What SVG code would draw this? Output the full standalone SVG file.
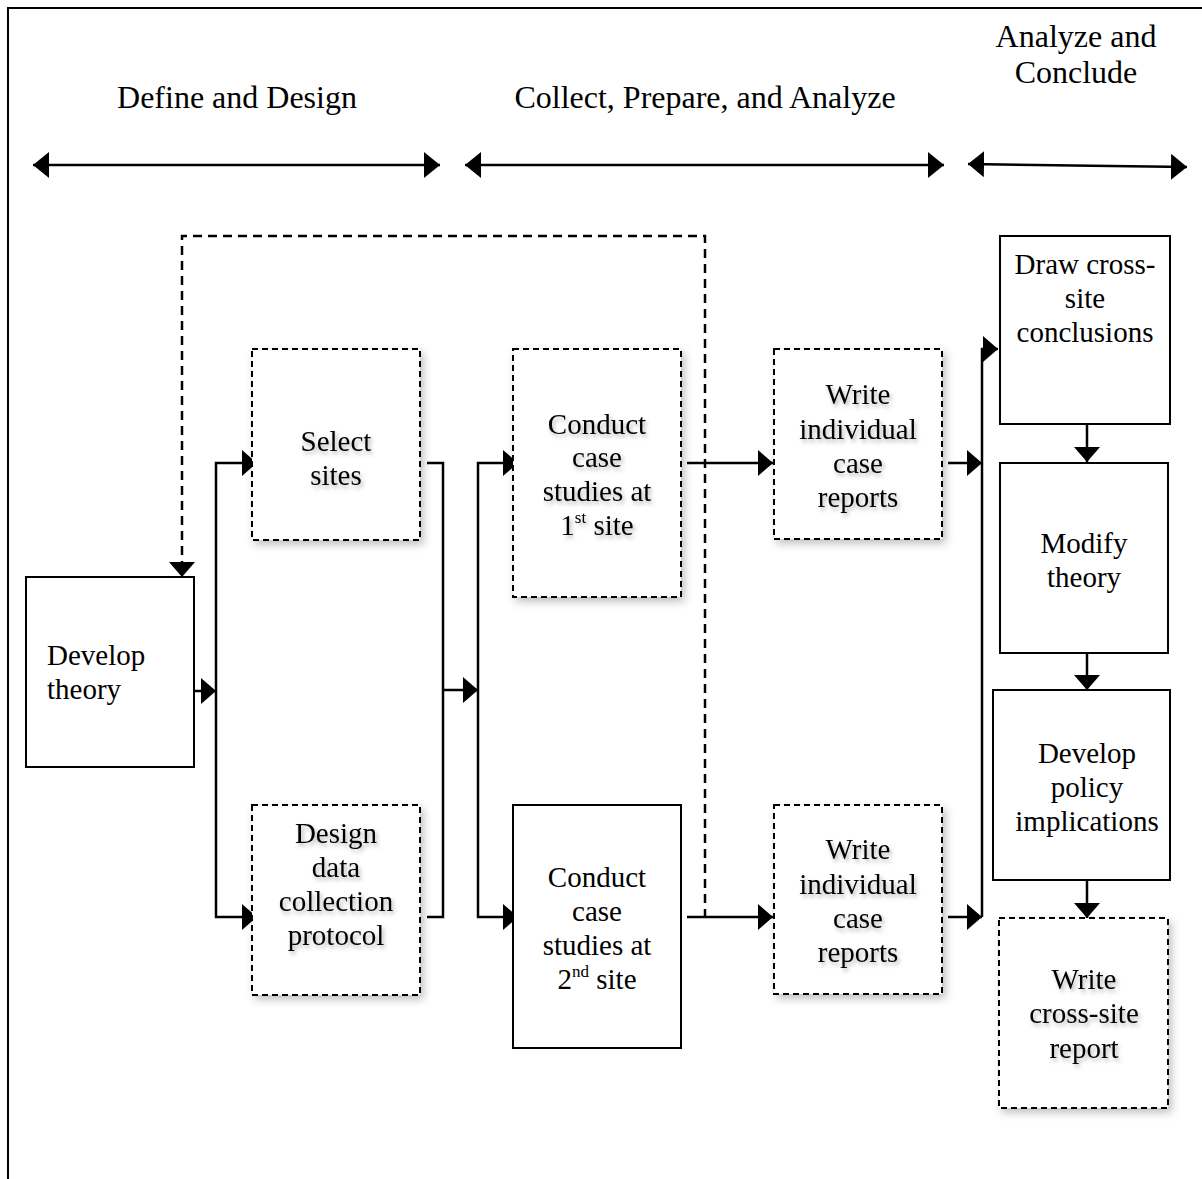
<svg xmlns="http://www.w3.org/2000/svg" width="1202" height="1179" viewBox="0 0 1202 1179">
<style>
text{font-family:"Liberation Serif","Times New Roman",serif;fill:#000}
.hd{font-size:32px;text-anchor:middle}
.bx{font-size:29px;text-anchor:middle}
.solid{fill:#fff;stroke:#000;stroke-width:2}
.dash{fill:#fff;stroke:#000;stroke-width:2;stroke-dasharray:6 4}
.sh{filter:url(#ds)}
.tsh{filter:url(#ts)}
.ln{fill:none;stroke:#000;stroke-width:2.5}
.fb{fill:none;stroke:#000;stroke-width:2.5;stroke-dasharray:9 6}
</style>
<defs>
<filter id="ds" x="-20%" y="-20%" width="150%" height="150%">
<feDropShadow dx="3" dy="4" stdDeviation="4" flood-color="#000" flood-opacity="0.25"/>
</filter>
<filter id="ts" x="-20%" y="-20%" width="150%" height="150%">
<feDropShadow dx="2" dy="3" stdDeviation="2" flood-color="#000" flood-opacity="0.3"/>
</filter>
<marker id="ah" viewBox="0 0 15 26" refX="15" refY="13" markerWidth="15" markerHeight="26" markerUnits="userSpaceOnUse" orient="auto">
<path d="M0,0 L15,13 L0,26 Z" fill="#000"/>
</marker>
<marker id="dh" viewBox="0 0 16 26" refX="16" refY="13" markerWidth="16" markerHeight="26" markerUnits="userSpaceOnUse" orient="auto-start-reverse">
<path d="M0,0 L16,13 L0,26 Z" fill="#000"/>
</marker>
</defs>
<rect width="1202" height="1179" fill="#fff"/>
<path d="M8,1179 V8 H1202" fill="none" stroke="#000" stroke-width="2"/>

<g id="headers">
<text class="hd" x="237" y="108">Define and Design</text>
<text class="hd" x="705" y="108">Collect, Prepare, and Analyze</text>
<text class="hd" x="1076" y="47">Analyze and</text>
<text class="hd" x="1076" y="83">Conclude</text>
</g>

<g id="phase-arrows">
<path class="ln" d="M33,165 H440" marker-start="url(#dh)" marker-end="url(#dh)"/>
<path class="ln" d="M465,165 H944" marker-start="url(#dh)" marker-end="url(#dh)"/>
<path class="ln" d="M968,164 L1187,167" marker-start="url(#dh)" marker-end="url(#dh)"/>
</g>

<g id="connectors">
<path class="fb" d="M705,918 V236 H182 V577" marker-end="url(#ah)"/>
<path class="ln" d="M194,691 H216" marker-end="url(#ah)"/>
<path class="ln" d="M216,691 V463 H257" marker-end="url(#ah)"/>
<path class="ln" d="M216,691 V917 H257" marker-end="url(#ah)"/>
<path class="ln" d="M427,463 H443 V917 H427"/>
<path class="ln" d="M443,690 H478" marker-end="url(#ah)"/>
<path class="ln" d="M478,690 V463 H518" marker-end="url(#ah)"/>
<path class="ln" d="M478,690 V917 H518" marker-end="url(#ah)"/>
<path class="ln" d="M687,463 H773" marker-end="url(#ah)"/>
<path class="ln" d="M687,917 H773" marker-end="url(#ah)"/>
<path class="ln" d="M948,463 H982" marker-end="url(#ah)"/>
<path class="ln" d="M948,917 H982" marker-end="url(#ah)"/>
<path class="ln" d="M982,917 V349 H998" marker-end="url(#ah)"/>
<path class="ln" d="M1087,424 V462" marker-end="url(#ah)"/>
<path class="ln" d="M1087,653 V690" marker-end="url(#ah)"/>
<path class="ln" d="M1087,880 V918" marker-end="url(#ah)"/>
</g>

<g id="develop-theory">
<rect class="solid" x="26" y="577" width="168" height="190"/>
<text class="bx" x="47" y="665" style="text-anchor:start">Develop</text>
<text class="bx" x="47" y="699" style="text-anchor:start">theory</text>
</g>

<g id="select-sites">
<rect class="dash sh" x="252" y="349" width="168" height="191"/>
<g class="tsh">
<text class="bx" x="336" y="451">Select</text>
<text class="bx" x="336" y="485">sites</text>
</g>
</g>

<g id="design-protocol">
<rect class="dash sh" x="252" y="805" width="168" height="190"/>
<g class="tsh">
<text class="bx" x="336" y="843">Design</text>
<text class="bx" x="336" y="877">data</text>
<text class="bx" x="336" y="911">collection</text>
<text class="bx" x="336" y="945">protocol</text>
</g>
</g>

<g id="conduct-1st">
<rect class="dash sh" x="513" y="349" width="168" height="248"/>
<g class="tsh">
<text class="bx" x="597" y="434">Conduct</text>
<text class="bx" x="597" y="467">case</text>
<text class="bx" x="597" y="501">studies at</text>
<text class="bx" x="597" y="535">1<tspan font-size="17" dy="-12">st</tspan><tspan dy="12"> site</tspan></text>
</g>
</g>

<g id="conduct-2nd">
<rect class="solid" x="513" y="805" width="168" height="243"/>
<text class="bx" x="597" y="887">Conduct</text>
<text class="bx" x="597" y="921">case</text>
<text class="bx" x="597" y="955">studies at</text>
<text class="bx" x="597" y="989">2<tspan font-size="17" dy="-12">nd</tspan><tspan dy="12"> site</tspan></text>
</g>

<g id="write-reports-1">
<rect class="dash sh" x="774" y="349" width="168" height="190"/>
<g class="tsh">
<text class="bx" x="858" y="404">Write</text>
<text class="bx" x="858" y="439">individual</text>
<text class="bx" x="858" y="473">case</text>
<text class="bx" x="858" y="507">reports</text>
</g>
</g>

<g id="write-reports-2">
<rect class="dash sh" x="774" y="805" width="168" height="189"/>
<g class="tsh">
<text class="bx" x="858" y="859">Write</text>
<text class="bx" x="858" y="894">individual</text>
<text class="bx" x="858" y="928">case</text>
<text class="bx" x="858" y="962">reports</text>
</g>
</g>

<g id="draw-conclusions">
<rect class="solid" x="1000" y="236" width="170" height="188"/>
<text class="bx" x="1085" y="274">Draw cross-</text>
<text class="bx" x="1085" y="308">site</text>
<text class="bx" x="1085" y="342">conclusions</text>
</g>

<g id="modify-theory">
<rect class="solid" x="1000" y="463" width="168" height="190"/>
<text class="bx" x="1084" y="553">Modify</text>
<text class="bx" x="1084" y="587">theory</text>
</g>

<g id="policy-implications">
<rect class="solid" x="993" y="690" width="177" height="190"/>
<text class="bx" x="1087" y="763">Develop</text>
<text class="bx" x="1087" y="797">policy</text>
<text class="bx" x="1087" y="831">implications</text>
</g>

<g id="cross-site-report">
<rect class="dash sh" x="999" y="918" width="169" height="190"/>
<g class="tsh">
<text class="bx" x="1084" y="989">Write</text>
<text class="bx" x="1084" y="1023">cross-site</text>
<text class="bx" x="1084" y="1058">report</text>
</g>
</g>
</svg>
